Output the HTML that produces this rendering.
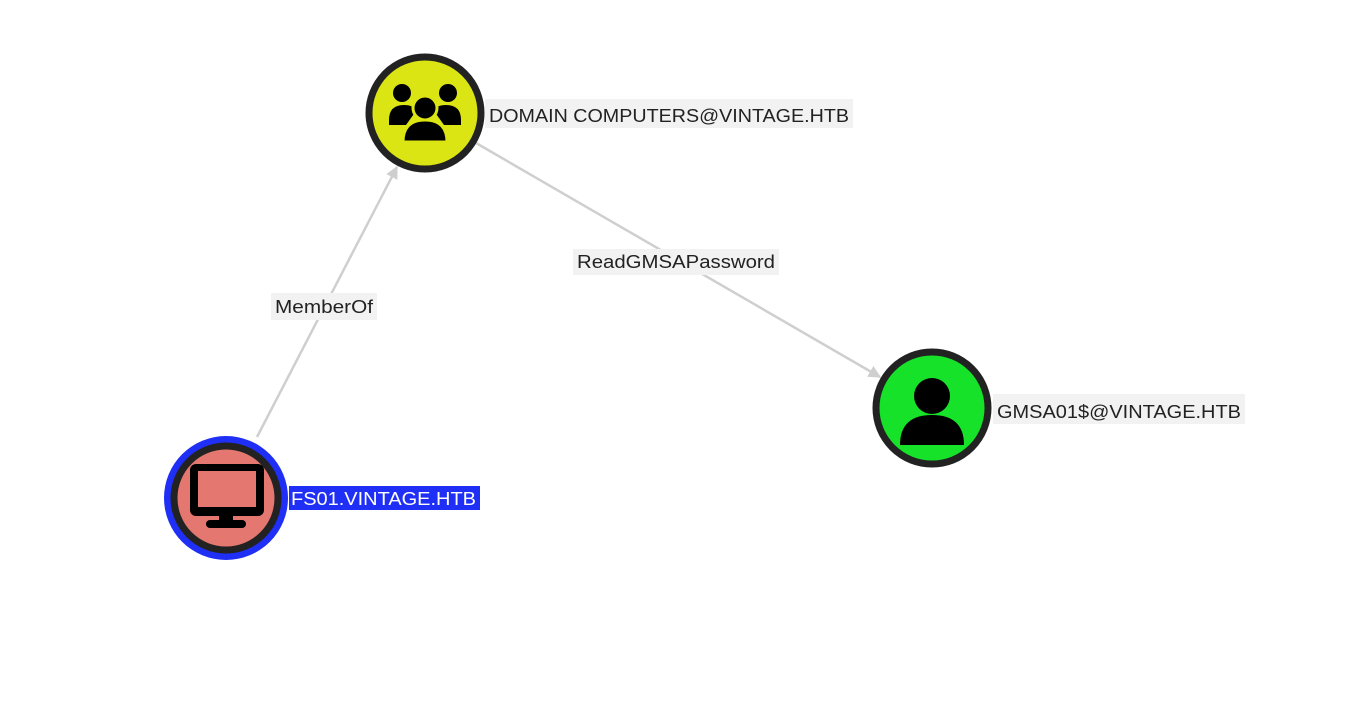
<!DOCTYPE html>
<html><head><meta charset="utf-8"><style>
html,body{margin:0;padding:0;background:#fff;width:1345px;height:718px;overflow:hidden}
text{font-family:"Liberation Sans",sans-serif;font-size:18px}
</style></head><body>
<svg width="1345" height="718" viewBox="0 0 1345 718" xmlns="http://www.w3.org/2000/svg">
<defs>
<marker id="a" viewBox="0 0 10 10" refX="9" refY="5" markerWidth="5" markerHeight="5" orient="auto"><path d="M0,0L10,5L0,10z" fill="#cfcfcf"/></marker>
</defs>
<line x1="257" y1="437" x2="397" y2="167" stroke="#cfcfcf" stroke-width="2.5" marker-end="url(#a)"/>
<line x1="476" y1="143" x2="880" y2="377" stroke="#cfcfcf" stroke-width="2.5" marker-end="url(#a)"/>
<rect x="271" y="293" width="106" height="27" fill="#f2f2f2"/>
<text x="275" y="313" fill="#222" textLength="98" lengthAdjust="spacingAndGlyphs">MemberOf</text>
<rect x="573" y="249" width="206" height="26" fill="#f2f2f2"/>
<text x="577" y="268" fill="#222" textLength="198" lengthAdjust="spacingAndGlyphs">ReadGMSAPassword</text>

<!-- DC -->
<circle cx="425" cy="113" r="56" fill="#dbe513" stroke="#222" stroke-width="7"/>
<g fill="#000">
<circle cx="402" cy="93" r="9"/><circle cx="448" cy="93" r="9"/>
<path d="M389,120 q0,-15 15,-15 h0 q10,0 12,6 l-10,14 h-17z"/>
<path d="M461,120 q0,-15 -15,-15 q-10,0 -12,6 l10,14 h17z"/>
<circle cx="425" cy="108" r="12" stroke="#dbe513" stroke-width="3"/>
<path d="M403,142 q0,-22 22,-22 q22,0 22,22z" stroke="#dbe513" stroke-width="3"/>
</g>
<rect x="485" y="99" width="368" height="29" fill="#f2f2f2"/>
<text x="489" y="122" fill="#222" textLength="360" lengthAdjust="spacingAndGlyphs">DOMAIN COMPUTERS@VINTAGE.HTB</text>

<!-- GMSA -->
<circle cx="932" cy="408" r="56" fill="#16e22a" stroke="#222" stroke-width="7"/>
<circle cx="932" cy="396" r="18" fill="#000"/>
<path d="M900,445 q0,-30 32,-30 q32,0 32,30z" fill="#000"/>
<rect x="993" y="394" width="252" height="30" fill="#f2f2f2"/>
<text x="997" y="418" fill="#222" textLength="244" lengthAdjust="spacingAndGlyphs">GMSA01$@VINTAGE.HTB</text>

<!-- FS01 -->
<circle cx="226" cy="498" r="62" fill="#1f2ff5"/>
<circle cx="226" cy="498" r="52" fill="#e57771" stroke="#222" stroke-width="7"/>
<rect x="190" y="464" width="74" height="52" rx="6" fill="#000"/>
<rect x="198" y="471" width="58" height="36" fill="#e57771"/>
<rect x="219" y="514" width="14" height="10" fill="#000"/>
<rect x="206" y="520" width="40" height="8" rx="4" fill="#000"/>
<rect x="289" y="486" width="191" height="24" fill="#1f2ff5"/>
<text x="291" y="505" fill="#fff" textLength="185" lengthAdjust="spacingAndGlyphs">FS01.VINTAGE.HTB</text>
</svg>
</body></html>
